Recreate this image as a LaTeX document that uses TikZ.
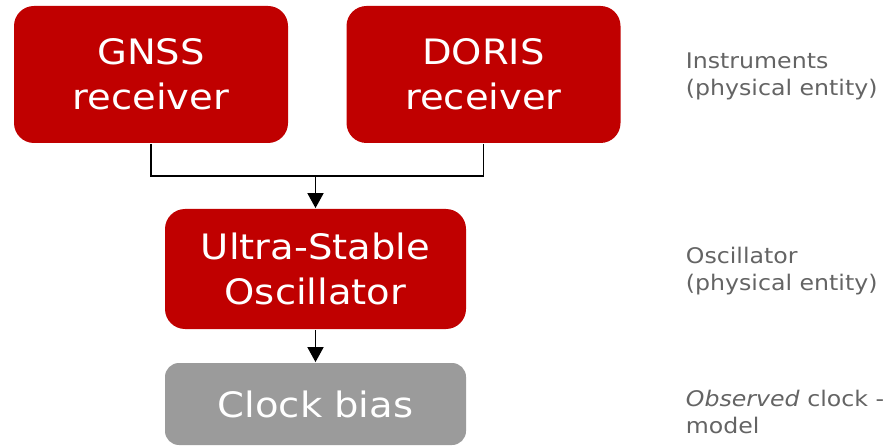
\documentclass[tikz,border=0pt]{standalone}
\usepackage{fontspec}
\setmainfont{DejaVu Sans}[FakeStretch=1.1]
\usetikzlibrary{arrows.meta}
\definecolor{box_red}{RGB}{192,0,0}
\definecolor{box_gray}{RGB}{155,155,155}
\definecolor{note_gray}{RGB}{100,100,100}

\begin{document}
\begin{tikzpicture}[x=1pt,y=-1pt,->,>={Triangle[width=16pt,length=15pt]},line width=1.8pt]
    \tikzstyle{unit}=[draw=none, rounded corners=20pt, text=white, align=center, inner sep=0pt, font=\fontsize{35}{45}\selectfont]
    \tikzstyle{hardware}=[style=unit, fill=box_red, minimum width=274pt, minimum height=137pt]
    \tikzstyle{oscbox}=[style=unit, fill=box_red, minimum width=301pt, minimum height=120pt]
    \tikzstyle{model}=[style=unit, fill=box_gray, rounded corners=14pt, minimum width=301pt, minimum height=82pt]
    \tikzstyle{note}=[anchor=west, align=left, text=note_gray, inner sep=0pt, font=\fontsize{21.5}{27}\selectfont]

    \useasboundingbox (0,0) rectangle (886,446);

    \node[hardware] (GNSS)  at (151,74.5)   {GNSS\\receiver};
    \node[hardware] (DORIS) at (483.5,74.5) {DORIS\\receiver};
    \node[oscbox]   (USO)   at (315.5,269)  {Ultra-Stable\\Oscillator};
    \node[model]    (BIAS)  at (315.5,404)  {Clock bias};
    \coordinate (join) at (315.5,176);

    \node[note] (instr) at (685,76)  {Instruments\\(physical entity)};
    \node[note] (osc)   at (685,271) {Oscillator\\(physical entity)};
    \node[note] (obs)   at (685,412) {\textit{Observed} clock -\\model};

    \draw[-] (GNSS.south) |- (join);
    \draw[-] (DORIS.south) |- (join);
    \path
     (join) edge (USO.north)
     (USO)  edge (BIAS);
  \end{tikzpicture}
\end{document}
